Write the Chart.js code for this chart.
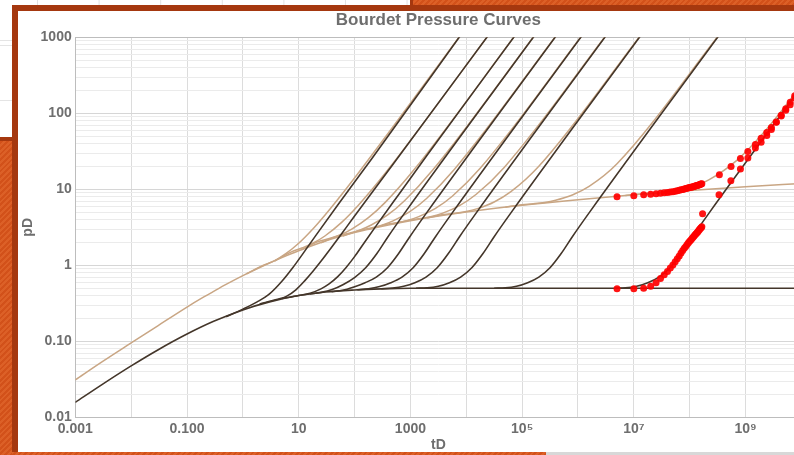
<!DOCTYPE html>
<html>
<head>
<meta charset="utf-8">
<script src="https://cdn.jsdelivr.net/npm/chart.js@4.4.1/dist/chart.umd.min.js"></script>
<style>
  html, body { margin: 0; padding: 0; width: 794px; height: 455px; overflow: hidden; background: #fff; }
  .box { position: absolute; }
  #sheet {
    left: 0; top: 0; width: 794px; height: 455px; background-color: #fff;
    background-image: linear-gradient(to right, #e2e2e2 1px, transparent 1px);
    background-size: 61.6px 100%; background-position: 37px 0;
  }
  .hatch { background: repeating-linear-gradient(-45deg, #d2511a 0 2px, #dc6027 2px 4px); }
  .dark { background: #a5380f; }
  #panel { left: 18px; top: 11px; width: 776px; height: 441px; background: #fff; }
  #chart { position: absolute; left: 18px; top: 0; }
</style>
</head>
<body>
<div id="sheet" class="box"></div>
<div class="box" style="left:0;top:40px;width:12px;height:1px;background:#e4e4e4"></div>
<div class="box" style="left:0;top:45px;width:12px;height:1px;background:#e4e4e4"></div>
<div class="box" style="left:0;top:100px;width:12px;height:1px;background:#e4e4e4"></div>
<div class="box hatch" style="left:413px;top:0;width:381px;height:5px"></div>
<div class="box dark" style="left:410px;top:0;width:3px;height:5px"></div>
<div class="box hatch" style="left:0;top:141px;width:12px;height:314px"></div>
<div class="box dark" style="left:0;top:137px;width:12px;height:4px"></div>
<div class="box dark" style="left:12px;top:5px;width:782px;height:450px"></div>
<div id="panel" class="box"></div>
<div class="box hatch" style="left:12px;top:452px;width:534px;height:3px"></div>
<div class="box" style="left:546px;top:452px;width:248px;height:3px;background:#d8d8d8"></div>
<canvas id="chart" width="840" height="455"></canvas>
<script>
// ---- tick labels ----
const xTickText = { '-3': '0.001', '-1': '0.100', '1': '10', '3': '1000', '5': '10⁵', '7': '10⁷', '9': '10⁹' };
const yTickText = { '-2': '0.01', '-1': '0.10', '0': '1', '1': '10', '2': '100', '3': '1000' };

// ---- infinite-acting base curves ----
const baseDerivTime = [0.001, 0.003, 0.01, 0.03, 0.1, 0.3, 1, 3, 10, 30, 100, 300, 1000, 1e4, 1e10];
const baseDerivValue = [0.0157, 0.0269, 0.0474, 0.0769, 0.1245, 0.183, 0.259, 0.330, 0.40, 0.446, 0.474, 0.490, 0.499, 0.5, 0.5];

const basePressTime = [0.001, 0.003, 0.01, 0.03, 0.1, 0.2, 0.3, 0.5, 1, 2, 3, 5, 10, 30, 100, 300, 1000, 1e4, 1e5, 1e6, 1e7, 1e8, 1e9, 1e10];
const basePressValue = [0.031, 0.0535, 0.095, 0.160, 0.282, 0.383, 0.454, 0.560, 0.731, 0.935, 1.071, 1.262, 1.554, 2.09, 2.70, 3.25, 3.86, 5.01, 6.16, 7.31, 8.46, 9.61, 10.77, 11.92];

// ---- bounded-reservoir derivative curves (one row per boundary size) ----
const boundDerivTime = [
  [0.5, 1, 1.8, 3, 5, 8, 12, 20, 50, 200, 1e4],
  [2, 4, 6, 9, 13, 18, 25, 40, 70, 150, 500, 4e4],
  [5, 10, 16, 25, 35, 50, 70, 100, 150, 250, 500, 2000, 1e5],
  [15.8, 25.1, 39.7, 63, 99.8, 158, 251, 397, 792, 2.06e5],
  [38.8, 61.5, 97.5, 154.5, 245, 388, 615, 975, 1945, 5.06e5],
  [112, 177, 281, 446, 706, 1119, 1774, 2812, 5610, 1.459e6],
  [301, 478, 757, 1200, 1901, 3013, 4775, 7568, 15100, 3.93e6],
  [1256, 1991, 3155, 5000, 7925, 12560, 19910, 31550, 62950, 1.637e7],
  [31550, 5e4, 79250, 125600, 199100, 315500, 5e5, 792500, 1.581e6, 4.11e8],
  [4.457e6, 7.063e6, 1.119e7, 1.774e7, 2.812e7, 4.457e7, 7.063e7, 1.119e8, 2.234e8, 1e10]
];
const boundDerivValue = [
  [0.21, 0.265, 0.33, 0.42, 0.616, 0.949, 1.435, 2.44, 6.21, 24.9, 1349],
  [0.31, 0.355, 0.39, 0.48, 0.633, 0.834, 1.128, 1.78, 3.11, 6.67, 21.9, 1706],
  [0.365, 0.40, 0.43, 0.49, 0.57, 0.71, 0.93, 1.3, 2.0, 3.4, 6.9, 28.2, 1413],
  [0.42, 0.44, 0.48, 0.56, 0.69, 0.93, 1.43, 2.38, 4.9, 1300],
  [0.45, 0.47, 0.52, 0.59, 0.70, 0.93, 1.43, 2.38, 4.9, 1300],
  [0.476, 0.49, 0.525, 0.59, 0.70, 0.93, 1.43, 2.38, 4.9, 1300],
  [0.492, 0.503, 0.53, 0.59, 0.70, 0.93, 1.43, 2.38, 4.9, 1300],
  [0.5, 0.505, 0.53, 0.59, 0.70, 0.93, 1.43, 2.38, 4.9, 1300],
  [0.5, 0.505, 0.53, 0.59, 0.70, 0.93, 1.43, 2.38, 4.9, 1300],
  [0.5, 0.505, 0.53, 0.59, 0.70, 0.93, 1.43, 2.38, 4.9, 224]
];

// ---- bounded-reservoir pressure curves ----
const boundPressTime = [
  [1.17, 2.34, 3.71, 5.87, 9.31, 18.6, 37, 117, 9640],
  [3.71, 7.4, 11.7, 18.6, 29.4, 58.7, 117, 371, 30480],
  [11.2, 22.3, 35.4, 56.1, 88.9, 177, 354, 1119, 92040],
  [25.1, 50, 79.3, 126, 199, 397, 792, 2506, 2.06e5],
  [61.5, 123, 195, 308, 489, 975, 1945, 6150, 5.06e5],
  [177, 354, 561, 889, 1409, 2812, 5610, 17740, 1.459e6],
  [478, 953, 1510, 2393, 3793, 7568, 15100, 47750, 3.93e6],
  [1991, 3972, 6295, 9977, 15810, 31550, 62950, 199100, 1.637e7],
  [5e4, 99770, 158100, 250600, 397200, 792500, 1.581e6, 5e6, 4.11e8],
  [7.06e6, 1.41e7, 2.234e7, 3.54e7, 5.61e7, 1.119e8, 2.234e8, 7.06e8, 2.234e9, 1e10]
];
const boundPressValue = [
  [0.775, 1.0, 1.15, 1.42, 1.86, 3.1, 5.6, 16.4, 1300],
  [1.14, 1.5, 1.70, 1.98, 2.43, 3.67, 6.17, 17.0, 1301],
  [1.60, 2.05, 2.25, 2.52, 2.99, 4.23, 6.73, 17.5, 1300],
  [1.98, 2.44, 2.64, 2.92, 3.39, 4.63, 7.13, 17.9, 1302],
  [2.42, 2.88, 3.09, 3.37, 3.84, 5.08, 7.58, 18.4, 1302],
  [2.96, 3.43, 3.63, 3.90, 4.37, 5.61, 8.11, 18.9, 1303],
  [3.48, 3.93, 4.13, 4.39, 4.86, 6.10, 8.60, 19.4, 1304],
  [4.20, 4.65, 4.84, 5.10, 5.57, 6.81, 9.31, 20.1, 1304],
  [5.81, 6.27, 6.46, 6.72, 7.19, 8.43, 10.93, 21.7, 1306],
  [8.29, 8.74, 8.93, 9.19, 9.66, 10.91, 13.4, 24.2, 58.4, 232]
];

// ---- test data ----
const obsTime = [5e6, 1e7, 1.5e7, 2e7, 2.5e7, 3e7, 3.5e7, 4e7, 4.5e7, 5e7, 5.5e7, 6e7, 6.5e7, 7e7, 7.5e7, 8e7, 8.5e7,
  9e7, 9.5e7, 1e8, 1.05e8, 1.1e8, 1.15e8, 1.2e8, 1.25e8, 1.3e8, 1.35e8, 1.4e8, 1.45e8, 1.5e8, 1.55e8, 1.6e8, 1.65e8,
  3.4e8, 5.5e8, 8.1e8, 1.1e9, 1.5e9, 1.9e9, 2.4e9, 2.9e9, 3.55e9, 4.35e9, 5.25e9, 6.3e9, 7.6e9];
const obsPressure = [7.95, 8.25, 8.45, 8.6, 8.75, 8.88, 9.0, 9.1, 9.2, 9.3, 9.43, 9.56, 9.7, 9.83, 9.96, 10.09, 10.22,
  10.34, 10.45, 10.55, 10.65, 10.74, 10.83, 10.92, 11.01, 11.11, 11.21, 11.31, 11.41, 11.51, 11.61, 11.71, 11.8,
  15.5, 20.0, 25.5, 31.5, 39, 47, 56, 65, 77, 92, 110, 130, 160];
const obsDerivTime = [5e6, 1e7, 1.5e7, 2e7, 2.5e7, 3e7, 3.5e7, 4e7, 4.5e7, 5e7, 5.5e7, 6e7, 6.5e7, 7e7, 7.5e7, 8e7, 8.5e7,
  9e7, 9.5e7, 1e8, 1.05e8, 1.1e8, 1.15e8, 1.2e8, 1.25e8, 1.3e8, 1.35e8, 1.4e8, 1.45e8, 1.5e8, 1.55e8, 1.6e8, 1.65e8,
  1.7e8, 3.35e8, 5.46e8, 8.1e8, 1.1e9, 1.5e9, 1.9e9, 2.4e9, 2.9e9, 3.55e9, 4.35e9, 5.25e9, 6.3e9, 7.6e9];
const obsDerivative = [0.49, 0.49, 0.50, 0.53, 0.59, 0.67, 0.75, 0.83, 0.92, 1.01, 1.11, 1.22, 1.33, 1.45, 1.56, 1.67, 1.77,
  1.88, 1.98, 2.07, 2.16, 2.25, 2.34, 2.43, 2.52, 2.60, 2.69, 2.77, 2.86, 2.95, 3.04, 3.13, 3.22,
  4.77, 8.5, 13.0, 18.5, 25.8, 34.9, 41.5, 51, 61, 76, 94, 115, 140, 170];

// ---- styling ----
const FONT = "'Liberation Sans', Arial, sans-serif";
const TEXT = '#6e6e6e';
const DARK = '#44362a';
const TAN = 'rgb(201,166,132)';

const pts = (t, v) => t.map((x, i) => ({ x: x, y: v[i] }));
const isDecade = v => Math.abs(Math.log10(v) - Math.round(Math.log10(v))) < 1e-6;

function curve(t, v, color, width, order) {
  return {
    data: pts(t, v), borderColor: color, borderWidth: width, pointRadius: 0,
    fill: false, cubicInterpolationMode: 'monotone', order: order
  };
}

const datasets = [];
datasets.push(curve(basePressTime, basePressValue, TAN, 1.5, 3));
boundPressTime.forEach((t, i) => datasets.push(curve(t, boundPressValue[i], TAN, 1.5, 3)));
datasets.push(curve(baseDerivTime, baseDerivValue, DARK, 1.6, 2));
boundDerivTime.forEach((t, i) => datasets.push(curve(t, boundDerivValue[i], DARK, 1.6, 2)));
datasets.push({
  data: pts(obsTime, obsPressure), showLine: false, pointRadius: 3.5,
  pointBackgroundColor: 'rgba(255,0,0,0.92)', pointBorderWidth: 0, order: 1
});
datasets.push({
  data: pts(obsDerivTime, obsDerivative), showLine: false, pointRadius: 3.5,
  pointBackgroundColor: 'rgba(255,0,0,0.92)', pointBorderWidth: 0, order: 1
});

// plot box outline
const plotFrame = {
  id: 'plotFrame',
  beforeDatasetsDraw(chart) {
    const { ctx, chartArea: a } = chart;
    ctx.save();
    ctx.strokeStyle = '#bdbdbd';
    ctx.lineWidth = 1;
    ctx.strokeRect(Math.round(a.left) + 0.5, Math.round(a.top) + 0.5,
      Math.round(a.right - a.left), Math.round(a.bottom - a.top));
    ctx.restore();
  }
};

new Chart(document.getElementById('chart'), {
  type: 'line',
  data: { datasets },
  plugins: [plotFrame],
  options: {
    responsive: false,
    animation: false,
    events: [],
    devicePixelRatio: 1,
    layout: { padding: { left: 0, right: 56.6, top: 0, bottom: 0 } },
    plugins: {
      legend: { display: false },
      tooltip: { enabled: false },
      title: {
        display: true, fullSize: false, text: 'Bourdet Pressure Curves', color: TEXT,
        font: { family: FONT, size: 17, weight: 'bold' },
        padding: { top: 10.3, bottom: 6.6 }
      }
    },
    scales: {
      x: {
        type: 'logarithmic', min: 1e-3, max: 1e10,
        afterBuildTicks(scale) {
          const t = [];
          for (let e = -3; e <= 10; e++) t.push({ value: Math.pow(10, e) });
          scale.ticks = t;
        },
        afterFit(scale) { scale.height = 37.7; },
        ticks: {
          autoSkip: false, maxRotation: 0, minRotation: 0, padding: 3, color: TEXT,
          font: { family: FONT, size: 14, weight: 'bold' },
          callback: v => xTickText[String(Math.round(Math.log10(v)))] || ''
        },
        grid: { color: '#dcdcdc', drawTicks: false },
        border: { color: '#bdbdbd' },
        title: {
          display: true, text: 'tD', color: TEXT,
          font: { family: FONT, size: 14, weight: 'bold' },
          padding: { top: 0, bottom: 1.2 }
        }
      },
      y: {
        type: 'logarithmic', min: 0.01, max: 1000,
        afterBuildTicks(scale) {
          const t = [];
          for (let e = -2; e <= 2; e++) for (let m = 1; m <= 9; m++) t.push({ value: m * Math.pow(10, e) });
          t.push({ value: 1000 });
          scale.ticks = t;
        },
        afterFit(scale) { scale.width = 57.3; },
        ticks: {
          autoSkip: false, padding: 3.6, color: TEXT,
          font: { family: FONT, size: 14, weight: 'bold' },
          callback: v => isDecade(v) ? (yTickText[String(Math.round(Math.log10(v)))] || '') : ''
        },
        grid: {
          drawTicks: false,
          color: c => (c.tick && isDecade(c.tick.value)) ? '#d6d6d6' : '#ebebeb'
        },
        border: { color: '#bdbdbd' },
        title: {
          display: true, text: 'pD', color: TEXT,
          font: { family: FONT, size: 14, weight: 'bold' },
          padding: { top: 2.2, bottom: 0 }
        }
      }
    }
  }
});
</script>
</body>
</html>
